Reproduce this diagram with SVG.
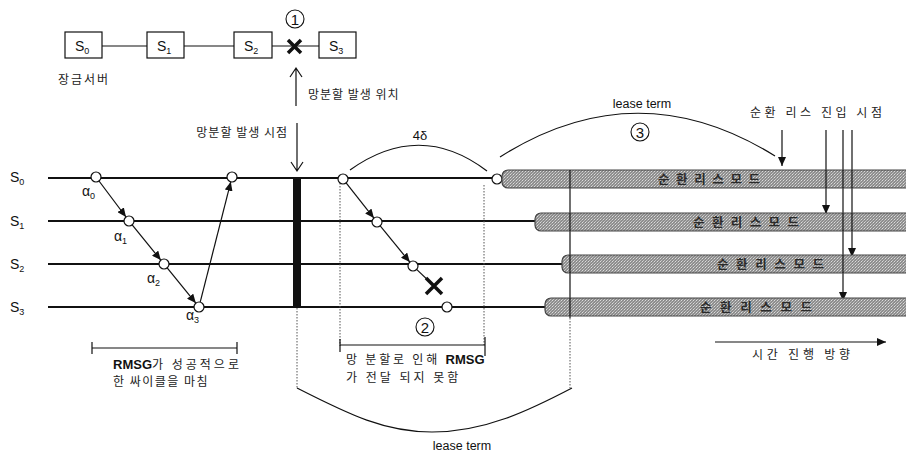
<svg xmlns="http://www.w3.org/2000/svg" width="906" height="458" viewBox="0 0 906 458">
<defs>
<style>
.t{font-family:"Noto Sans CJK KR","Liberation Sans",sans-serif;font-size:12px;fill:#222}
.l{font-family:"Liberation Sans",sans-serif;fill:#111}
.s{font-family:"Liberation Sans",sans-serif;font-size:14px;fill:#111}
.sub{font-size:9px}
.box{fill:#fff;stroke:#111;stroke-width:1.2}
.tl{stroke:#111;stroke-width:2;fill:none}
.thin{stroke:#111;stroke-width:1.2;fill:none}
.dot{stroke:#555;stroke-width:1;stroke-dasharray:1.5 1.5;fill:none}
.circ{fill:#fff;stroke:#111;stroke-width:1.2}
.bar{fill:url(#stip);stroke:#444;stroke-width:1.2}
.bt{font-family:"Noto Sans CJK KR",sans-serif;font-size:12.5px;font-weight:bold;fill:#2a2a2a}
.num{fill:#fff;stroke:#111;stroke-width:1.1}
.rm{font-family:"Liberation Sans",sans-serif;font-weight:bold;font-size:13px;fill:#111}
</style>
<pattern id="stip" width="3" height="3" patternUnits="userSpaceOnUse">
<rect width="3" height="3" fill="#8e8e8e"/>
<rect width="1" height="1" fill="#dcdcdc"/>
<rect x="2" y="1" width="1" height="1" fill="#b4b4b4"/>
<rect x="1" y="2" width="1" height="1" fill="#c4c4c4"/>
</pattern>
<marker id="af" markerWidth="9" markerHeight="8" refX="9" refY="4" orient="auto" markerUnits="userSpaceOnUse">
<path d="M0,0 L9,4 L0,8 z" fill="#111"/>
</marker>
</defs>
<rect width="906" height="458" fill="#fff"/>

<g id="top-network">
<g id="box-s0"><rect class="box" x="65" y="32" width="37" height="26"/><text class="s" x="75" y="51">S<tspan class="sub" dy="3">0</tspan></text></g>
<g id="box-s1"><rect class="box" x="147" y="32" width="37" height="26"/><text class="s" x="157" y="51">S<tspan class="sub" dy="3">1</tspan></text></g>
<g id="box-s2"><rect class="box" x="234" y="32" width="38" height="26"/><text class="s" x="244" y="51">S<tspan class="sub" dy="3">2</tspan></text></g>
<g id="box-s3"><rect class="box" x="319" y="32" width="37" height="26"/><text class="s" x="329" y="51">S<tspan class="sub" dy="3">3</tspan></text></g>
<text class="t" x="58" y="84" letter-spacing="2">장금서버</text>
</g>

<g id="connectors">
<path class="thin" d="M102,46 H147 M184,46 H234 M272,46 H319"/>
<path d="M288,40 L301,53 M301,40 L288,53" stroke="#111" stroke-width="3.5"/>
<g id="c1"><circle class="num" cx="295" cy="19" r="9"/><text class="l" x="295" y="25" font-size="15" text-anchor="middle">1</text></g>
<path class="thin" d="M296,106 V68 M290,77 L296,68 L302,77"/>
<text class="t" x="308" y="99" letter-spacing="1">망분할 발생 위치</text>
<text class="t" x="288" y="137" text-anchor="end" letter-spacing="1">망분할 발생 시점</text>
<path class="thin" d="M297,123 V171 M291,162 L297,171 L303,162"/>

<path class="tl" d="M48,178 H503 M48,221 H535 M48,264 H562 M48,307 H545"/>
<rect x="293" y="177" width="8" height="131" fill="#111"/>

<path class="dot" d="M297,308 V388 M340,183 V346 M484,185 V345 M570,318 V388"/>
<path class="thin" d="M570,170 V318" stroke-width="1"/>

<path class="thin" marker-end="url(#af)" d="M99,181 L126,217"/>
<path class="thin" marker-end="url(#af)" d="M132.2,224.9 L160.8,260.1"/>
<path class="thin" marker-end="url(#af)" d="M167.2,267.9 L195.8,303.1"/>
<path class="thin" marker-end="url(#af)" d="M200.2,302.2 L230.8,181.8"/>
<circle class="circ" cx="96" cy="177" r="5"/>
<circle class="circ" cx="129" cy="221" r="5"/>
<circle class="circ" cx="164" cy="264" r="5"/>
<circle class="circ" cx="199" cy="307" r="5"/>
<circle class="circ" cx="232" cy="177" r="5"/>

<path class="thin" marker-end="url(#af)" d="M346.1,182.9 L373.9,218.1"/>
<path class="thin" marker-end="url(#af)" d="M380.2,225.9 L409.8,262.1"/>
<path class="thin" d="M416.6,269.4 L432,284"/>
<path d="M426,294 L442,278 M426,278 L442,294" stroke="#111" stroke-width="3.5"/>
<circle class="circ" cx="343" cy="179" r="5"/>
<circle class="circ" cx="377" cy="222" r="5"/>
<circle class="circ" cx="413" cy="266" r="5"/>
<circle class="circ" cx="447" cy="307" r="5"/>
<circle class="circ" cx="497" cy="179" r="5"/>

<path class="thin" d="M350,170 Q420,120 487,171"/>
<path class="thin" d="M500,157 Q637,70 775,156"/>
<path class="thin" d="M297,388 C350,415 385,432 432,432 C485,432 530,410 572,388"/>

<path class="thin" d="M92,348 H237 M92,342 V354 M237,342 V354"/>
<path class="thin" d="M340,345 H485 M340,339 V352 M485,337 V356"/>

<path class="thin" marker-end="url(#af)" d="M782,130 V166"/>
<path class="thin" marker-end="url(#af)" d="M826,130 V214"/>
<path class="thin" marker-end="url(#af)" d="M852,130 V257"/>
<path class="thin" marker-end="url(#af)" d="M843,130 V301"/>

<path class="thin" marker-end="url(#af)" d="M715,342 H886"/>
</g>

<g id="timeline-labels">
<text class="s" x="10" y="182">S<tspan class="sub" dy="3">0</tspan></text>
<text class="s" x="10" y="226">S<tspan class="sub" dy="3">1</tspan></text>
<text class="s" x="10" y="269">S<tspan class="sub" dy="3">2</tspan></text>
<text class="s" x="10" y="312">S<tspan class="sub" dy="3">3</tspan></text>
<text class="s" x="82" y="196">α<tspan class="sub" dy="3">0</tspan></text>
<text class="s" x="114" y="241">α<tspan class="sub" dy="3">1</tspan></text>
<text class="s" x="147" y="283">α<tspan class="sub" dy="3">2</tspan></text>
<text class="s" x="186" y="320">α<tspan class="sub" dy="3">3</tspan></text>
<text class="l" x="420" y="140" font-size="13" text-anchor="middle">4δ</text>
<text class="l" x="642" y="108" font-size="12.5" text-anchor="middle">lease term</text>
<text class="l" x="462" y="450" font-size="12.5" text-anchor="middle">lease term</text>
</g>

<g id="c2"><circle class="num" cx="425" cy="327" r="9"/><text class="l" x="425" y="333" font-size="15" text-anchor="middle">2</text></g>
<g id="c3"><circle class="num" cx="640" cy="132" r="9"/><text class="l" x="640" y="138" font-size="15" text-anchor="middle">3</text></g>

<g id="lease-bars">
<g id="bar-s0"><rect class="bar" x="502" y="170" width="420" height="18" rx="6"/><text class="bt" x="658" y="184" textLength="102" lengthAdjust="spacing">순환리스모드</text></g>
<g id="bar-s1"><rect class="bar" x="535" y="213" width="390" height="18" rx="6"/><text class="bt" x="693" y="227" textLength="106" lengthAdjust="spacing">순환리스모드</text></g>
<g id="bar-s2"><rect class="bar" x="562" y="255" width="360" height="18" rx="6"/><text class="bt" x="717" y="269" textLength="107" lengthAdjust="spacing">순환리스모드</text></g>
<g id="bar-s3"><rect class="bar" x="545" y="298" width="380" height="18" rx="6"/><text class="bt" x="700" y="312" textLength="112" lengthAdjust="spacing">순환리스모드</text></g>
</g>

<g id="entry-lines-overlay">
<path class="thin" d="M570,170 V188 M570,213 V231 M570,255 V273 M570,298 V316" stroke-width="1"/>
<path class="thin" d="M826,170 V188 M852,170 V188 M852,213 V231 M843,170 V188 M843,213 V231 M843,255 V273"/>
</g>

<g id="notes">
<text class="t" x="113" y="369"><tspan class="rm">RMSG</tspan><tspan letter-spacing="3">가 성공적으로</tspan></text>
<text class="t" x="113" y="386" letter-spacing="1.5">한 싸이클을 마침</text>
<text class="t" x="346" y="364"><tspan letter-spacing="2.8">망 분할로 인해 </tspan><tspan class="rm">RMSG</tspan></text>
<text class="t" x="346" y="382" letter-spacing="3">가 전달 되지 못함</text>
<text class="t" x="750" y="117" textLength="132" lengthAdjust="spacing">순환 리스 진입 시점</text>
<text class="t" x="752" y="359" textLength="98" lengthAdjust="spacing">시간 진행 방향</text>
</g>
</svg>
